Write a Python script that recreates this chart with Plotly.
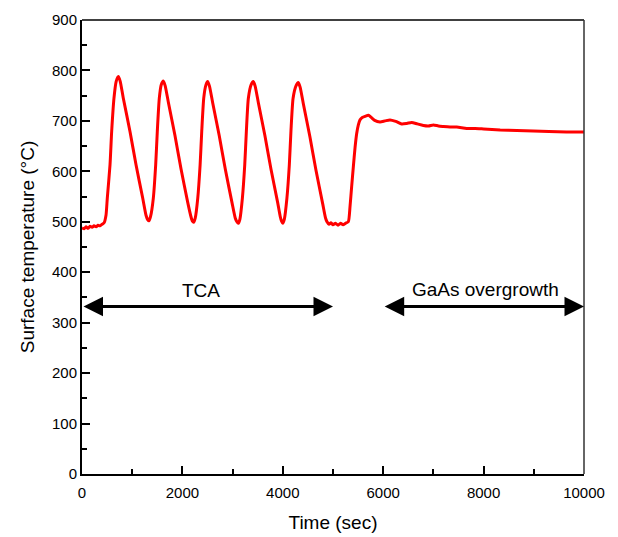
import plotly.graph_objects as go

# surface temperature (sec, degC)
time_s = [0, 40, 80, 120, 160, 200, 240, 280, 320, 360, 400, 440,
          478, 504, 558, 591, 637, 680, 724, 760, 823, 956, 1076, 1209, 1275, 1310, 1335,
          1365, 1421, 1468, 1500, 1540, 1580, 1620,
          1656, 1720, 1852, 1972, 2105, 2171, 2200, 2225,
          2255, 2306, 2353, 2385, 2425, 2465, 2503,
          2539, 2603, 2735, 2855, 2988, 3054, 3085, 3114,
          3145, 3195, 3242, 3274, 3314, 3370, 3413,
          3449, 3513, 3645, 3765, 3898, 3950, 3975, 3998,
          4030, 4082, 4130, 4162, 4205, 4265, 4309,
          4345, 4409, 4541, 4661, 4794, 4850, 4880, 4920, 4960, 5000, 5050, 5100,
          5150, 5200, 5250, 5305,
          5339, 5372, 5405, 5440, 5472, 5505, 5538, 5590, 5640, 5705, 5760, 5830, 5936,
          6035, 6135, 6250, 6368, 6470, 6567, 6680, 6800, 6900, 7000, 7100, 7200, 7330,
          7465, 7663, 7830, 8000, 8330, 8660, 8990, 9300, 9650, 10000]
temp_c = [488, 486, 490, 487, 491, 489, 492, 490, 493, 492, 495, 498,
          513, 547, 613, 679, 745, 778, 788, 779, 745, 679, 613, 547, 513, 504, 502,
          510, 547, 613, 679, 745, 772, 779,
          770, 737, 671, 605, 539, 510, 501, 499,
          507, 547, 613, 679, 745, 770, 778,
          769, 736, 670, 604, 538, 507, 500, 497,
          505, 547, 613, 679, 745, 772, 778,
          769, 736, 670, 604, 538, 510, 501, 497,
          505, 547, 613, 679, 745, 770, 776,
          767, 734, 668, 602, 536, 508, 500, 495, 498, 494, 497, 493,
          497, 494, 497, 500,
          530, 570, 609, 648, 675, 692, 702, 707, 709, 711, 707, 701, 698,
          700, 702, 699, 694, 695, 697, 694, 691, 690, 692, 690, 689, 688,
          688, 685, 685, 684, 682, 681, 680, 679, 678, 678]

tick_font = dict(family='Liberation Sans, Arial', size=15, color='black')
title_font = dict(family='Liberation Sans, Arial', size=19, color='black')

fig = go.Figure()
fig.add_trace(go.Scatter(x=time_s, y=temp_c, mode='lines',
                         line=dict(color='#ff0000', width=3, shape='spline', smoothing=0.6),
                         showlegend=False, hoverinfo='skip'))

fig.update_xaxes(range=[0, 10000], dtick=2000, tickformat='d', showline=True, linecolor='black',
                 linewidth=2, ticks='inside', ticklen=8, tickwidth=1.5, tickcolor='black',
                 minor=dict(dtick=1000, ticks='inside', ticklen=5, tickwidth=1.5, tickcolor='black'),
                 showgrid=False, zeroline=False, tickfont=tick_font, automargin=False,
                 ticklabelstandoff=4,
                 title=dict(text='Time (sec)', font=title_font, standoff=16))
fig.update_yaxes(range=[0, 900], dtick=100, tickformat='d', showline=True, linecolor='black',
                 linewidth=2, ticks='inside', ticklen=8, tickwidth=1.5, tickcolor='black',
                 minor=dict(dtick=50, ticks='inside', ticklen=5, tickwidth=1.5, tickcolor='black'),
                 showgrid=False, zeroline=False, tickfont=tick_font, automargin=False,
                 title=dict(text='Surface temperature (°C)', font=title_font, standoff=12))

# thin top and right frame
fig.add_shape(type='line', xref='paper', yref='paper', x0=0, x1=1, y0=1, y1=1,
              line=dict(color='black', width=1.5))
fig.add_shape(type='line', xref='paper', yref='paper', x0=1, x1=1, y0=0, y1=1,
              line=dict(color='#333333', width=1.5))

# phase arrows
arrows = [(0, 5000), (6000, 10000)]
for a0, a1 in arrows:
    fig.add_annotation(x=a1, y=332, ax=a0, ay=332, xref='x', yref='y', axref='x', ayref='y',
                       text='', showarrow=True, arrowside='end+start', arrowhead=2,
                       arrowsize=1.3, arrowwidth=3, arrowcolor='black')
fig.add_annotation(x=2380, y=363, text='TCA', showarrow=False,
                   font=dict(family='Liberation Sans, Arial', size=19, color='black'))
fig.add_annotation(x=8040, y=365, text='GaAs overgrowth', showarrow=False,
                   font=dict(family='Liberation Sans, Arial', size=19, color='black'))

# page body has an 8px margin, so the figure is drawn 8px in from the corner
fig.update_layout(width=610, height=529, plot_bgcolor='white', paper_bgcolor='white',
                  margin=dict(l=74, r=34, t=12, b=63))

fig.write_html("out.html")
